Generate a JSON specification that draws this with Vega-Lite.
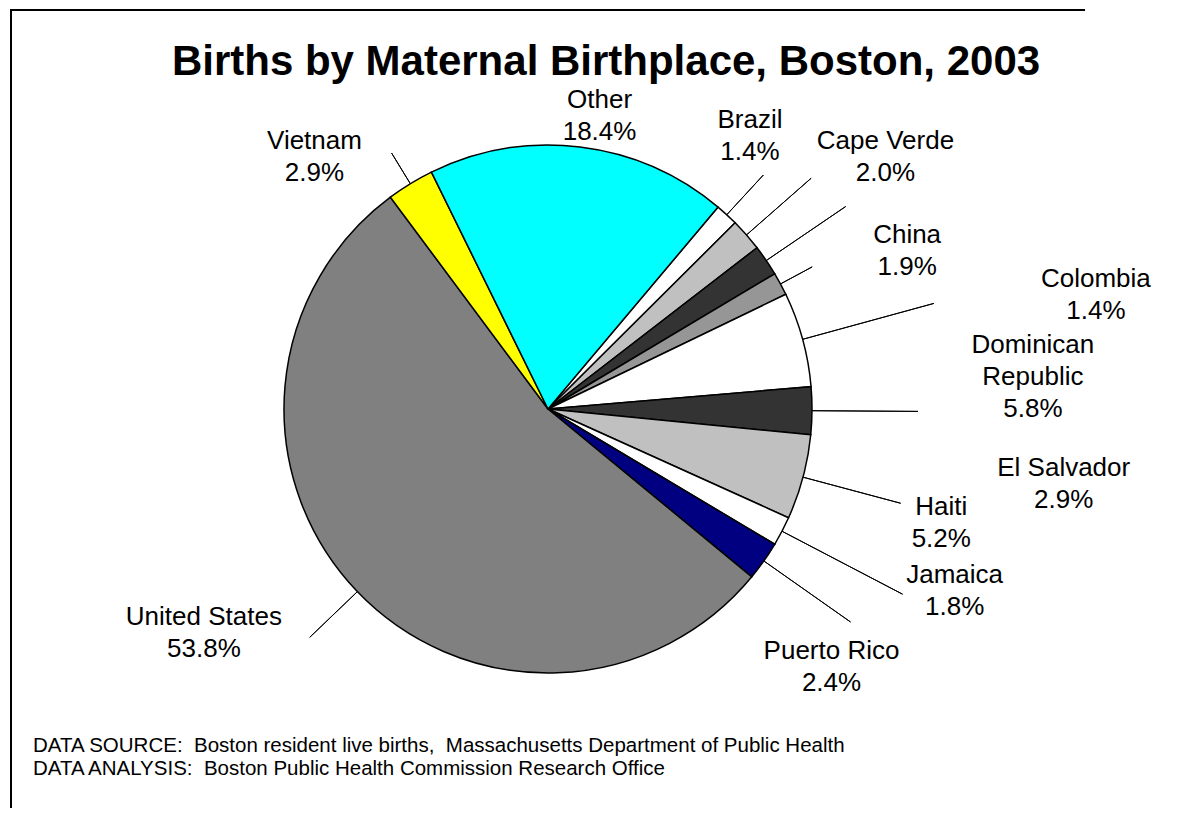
{
  "$schema": "https://vega.github.io/schema/vega-lite/v6.json",
  "padding": {"left": 10, "top": 9, "right": 0, "bottom": 0},
  "background": "white",
  "title": {
    "text": ["DATA SOURCE:\u00a0 Boston resident live births,\u00a0 Massachusetts Department of Public Health", "DATA ANALYSIS:\u00a0 Boston Public Health Commission Research Office"],
    "orient": "bottom",
    "anchor": "start",
    "frame": "bounds",
    "offset": 0,
    "align": "left",
    "baseline": "alphabetic",
    "font": "Liberation Sans",
    "fontSize": 20.5,
    "fontWeight": "normal",
    "color": "black",
    "lineHeight": 23,
    "dx": 23,
    "dy": -57
  },
  "config": {
    "concat": {"spacing": 0}
  },
  "vconcat": [
    {
      "width": 1074,
      "height": 798,
      "view": {"stroke": "black", "strokeWidth": 2, "strokeDash": [1074, 1872, 798]},
      "title": {
        "text": "Births by Maternal Birthplace, Boston, 2003",
        "orient": "top",
        "anchor": "middle",
        "frame": "group",
        "offset": 0,
        "baseline": "alphabetic",
        "font": "Liberation Sans",
        "fontSize": 42,
        "fontWeight": "bold",
        "color": "black",
        "dx": 58,
        "dy": 107
      },
      "data": {
        "values": [
          {"country": "Brazil", "share": 0.014, "rank": 1},
          {"country": "Cape Verde", "share": 0.020, "rank": 2},
          {"country": "China", "share": 0.019, "rank": 3},
          {"country": "Colombia", "share": 0.014, "rank": 4},
          {"country": "Dominican Republic", "share": 0.058, "rank": 5},
          {"country": "El Salvador", "share": 0.029, "rank": 6},
          {"country": "Haiti", "share": 0.052, "rank": 7},
          {"country": "Jamaica", "share": 0.018, "rank": 8},
          {"country": "Puerto Rico", "share": 0.024, "rank": 9},
          {"country": "United States", "share": 0.538, "rank": 10},
          {"country": "Vietnam", "share": 0.029, "rank": 11},
          {"country": "Other", "share": 0.184, "rank": 12}
        ]
      },
      "resolve": {"scale": {"theta": "independent"}},
      "layer": [
        {
          "mark": {"type": "arc", "radius": 264, "stroke": "black", "strokeWidth": 1.5},
          "encoding": {
            "theta": {"field": "share", "type": "quantitative", "stack": true, "scale": {"range": [0.6999, 6.9831]}},
            "order": {"field": "rank", "type": "quantitative"},
            "color": {
              "field": "country",
              "type": "nominal",
              "scale": {
                "domain": ["Brazil", "Cape Verde", "China", "Colombia", "Dominican Republic", "El Salvador", "Haiti", "Jamaica", "Puerto Rico", "United States", "Vietnam", "Other"],
                "range": ["#ffffff", "#c0c0c0", "#333333", "#969696", "#ffffff", "#333333", "#c0c0c0", "#ffffff", "#000080", "#808080", "#ffff00", "#00ffff"]
              },
              "legend": null
            }
          }
        },
        {
          "mark": {
            "type": "arc",
            "radius": {"expr": "({'Brazil':318,'Cape Verde':350,'China':360,'Colombia':300,'Dominican Republic':400,'El Salvador':370,'Haiti':365,'Jamaica':400,'Puerto Rico':370,'United States':264,'Vietnam':300,'Other':264})[datum.country]"},
            "radius2": 264,
            "padAngle": 3.1416,
            "filled": false,
            "stroke": "black",
            "strokeWidth": 1
          },
          "encoding": {
            "theta": {"field": "share", "type": "quantitative", "stack": true, "scale": {"range": [0.6999, 6.9831]}},
            "order": {"field": "rank", "type": "quantitative"},
            "detail": {"field": "country", "type": "nominal"},
            "strokeOpacity": {"condition": {"test": "datum.country == 'United States'", "value": 0}, "value": 1}
          }
        },
        {
          "transform": [{"filter": "datum.country == 'United States'"}],
          "mark": {
            "type": "arc",
            "radius": 330,
            "radius2": 264,
            "padAngle": 3.1416,
            "filled": false,
            "stroke": "black",
            "strokeWidth": 1
          },
          "encoding": {
            "theta": {"field": "share", "type": "quantitative", "stack": true, "scale": {"range": [3.4483, 4.4483]}},
            "detail": {"field": "country", "type": "nominal"}
          }
        },
        {
          "mark": {
            "type": "text",
            "font": "Liberation Sans",
            "fontSize": 26,
            "lineHeight": 32,
            "align": "center",
            "baseline": "middle",
            "color": "black",
            "radius": {"expr": "({'Brazil':341,'Cape Verde':422,'China':393,'Colombia':560,'Dominican Republic':486,'El Salvador':521,'Haiti':409,'Jamaica':445,'Puerto Rico':382,'United States':410,'Vietnam':345,'Other':299})[datum.country]"},
            "thetaOffset": {"expr": "({'Brazil':-0.110,'Cape Verde':0.076,'China':0.179,'Colombia':0.285,'Dominican Republic':0.199,'El Salvador':0.136,'Haiti':0.017,'Jamaica':-0.063,'Puerto Rico':0.121,'United States':0.186,'Vietnam':-0.195,'Other':0.052})[datum.country]"},
            "dy": {"expr": "datum.country == 'Dominican Republic' ? -31 : -14.5"},
            "text": {"expr": "split(replace(datum.country, 'Dominican ', 'Dominican|') + '|' + format(datum.share, '.1%'), '|')"}
          },
          "encoding": {
            "theta": {"field": "share", "type": "quantitative", "stack": true, "scale": {"range": [0.6999, 6.9831]}},
            "order": {"field": "rank", "type": "quantitative"},
            "detail": {"field": "country", "type": "nominal"}
          }
        }
      ]
    }
  ]
}
